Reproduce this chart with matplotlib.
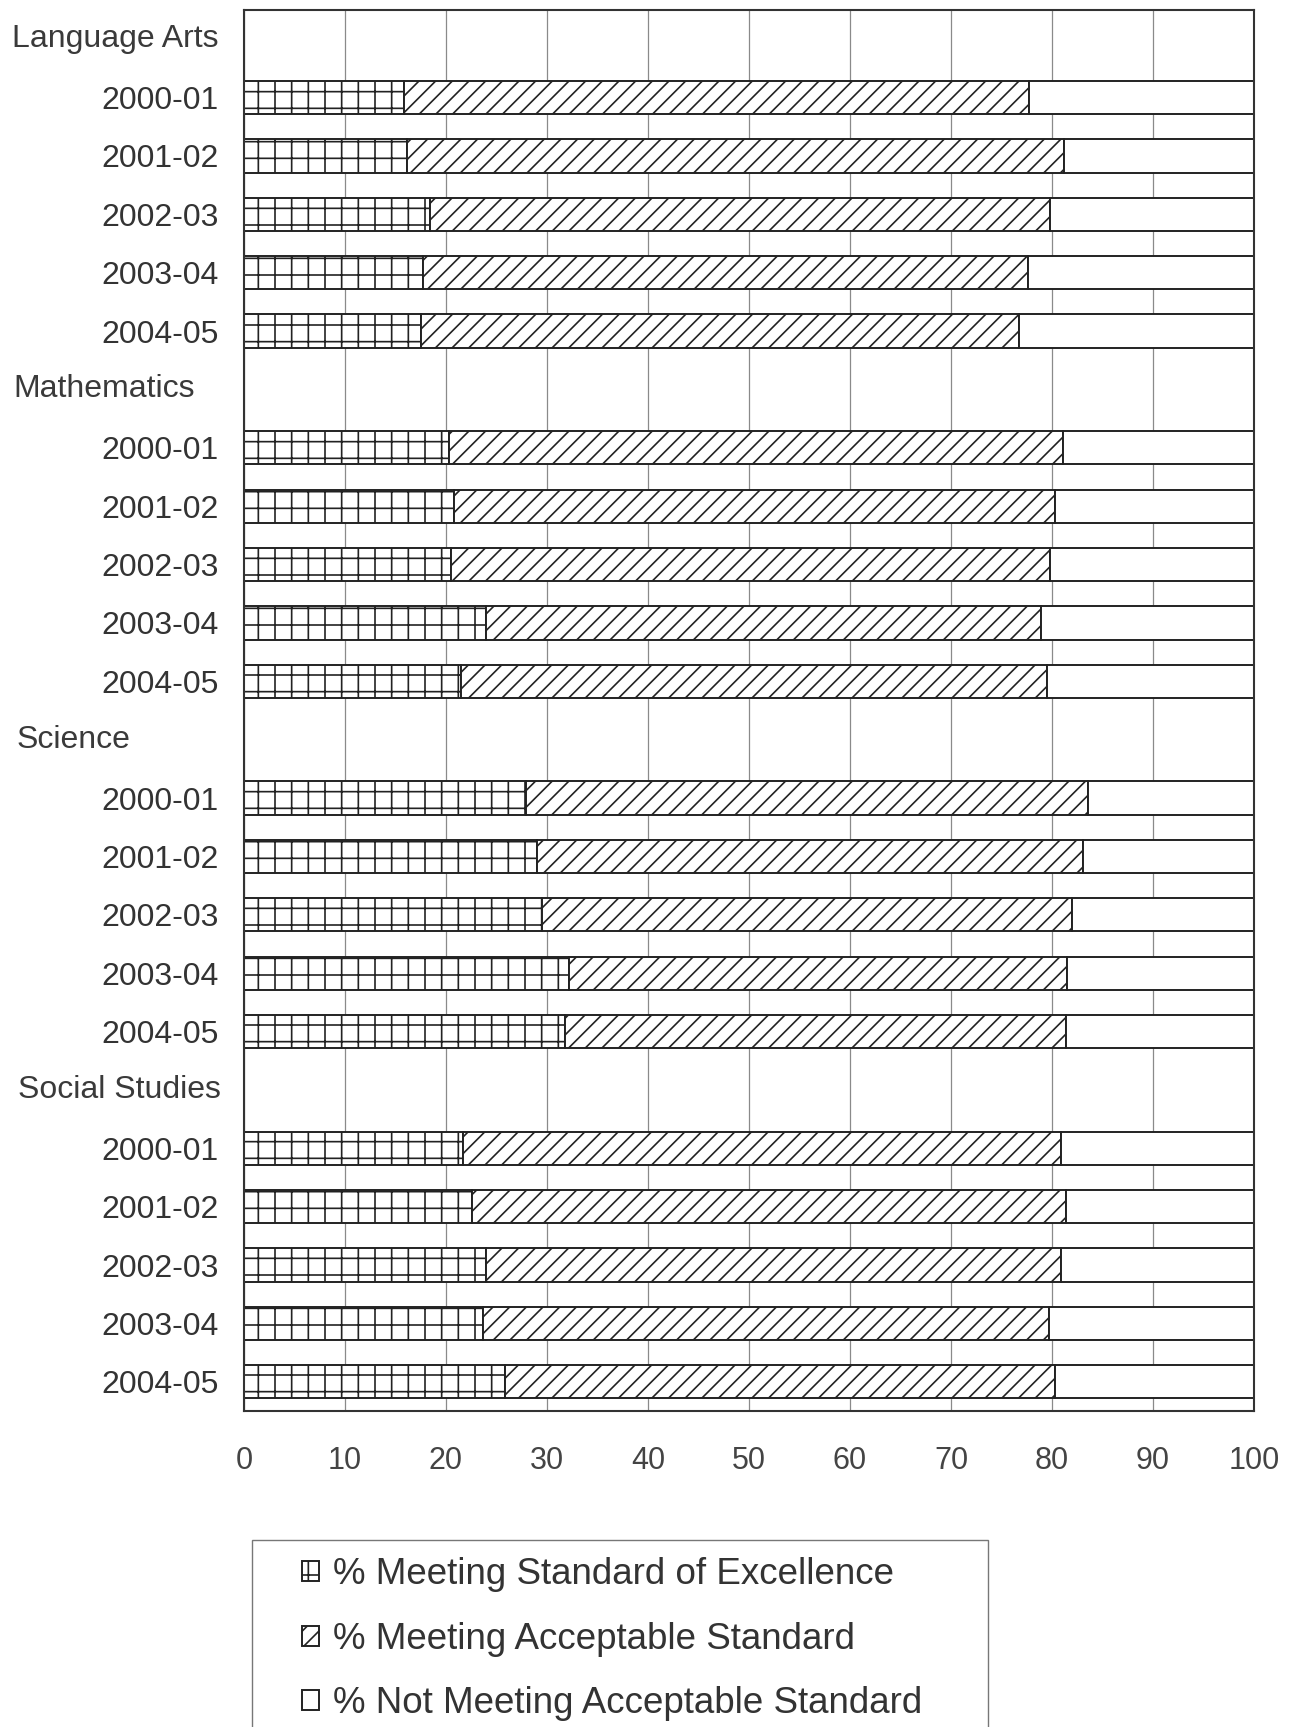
import numpy as np
import matplotlib.pyplot as plt
import matplotlib.transforms as mtransforms
from matplotlib.patches import Rectangle

plt.rcParams['font.family'] = ['Liberation Sans', 'DejaVu Sans']
plt.rcParams['hatch.linewidth'] = 1.2

# Datos: materias, años y porcentajes por nivel
materias = ['Language Arts', 'Mathematics', 'Science', 'Social Studies']
anios = ['2000-01', '2001-02', '2002-03', '2003-04', '2004-05']

excelencia = [15.8, 16.1, 18.4, 17.7, 17.5,
              20.3, 20.8, 20.5, 24.0, 21.5,
              27.9, 29.0, 29.5, 32.2, 31.8,
              21.7, 22.6, 24.0, 23.7, 25.8]
aceptable = [61.9, 65.1, 61.4, 59.9, 59.2,
             60.8, 59.5, 59.3, 54.9, 58.0,
             55.7, 54.1, 52.5, 49.3, 49.6,
             59.2, 58.8, 56.9, 56.0, 54.5]

etiquetas = ['% Meeting Standard of Excellence',
             '% Meeting Acceptable Standard',
             '% Not Meeting Acceptable Standard']

excelencia = np.array(excelencia)
aceptable = np.array(aceptable)
no_aceptable = 100 - excelencia - aceptable

# Cada materia ocupa una fila de título y cinco filas de barras
filas_titulo = [6 * i for i in range(len(materias))]
filas_barras = [6 * i + 1 + j for i in range(len(materias)) for j in range(len(anios))]

fig = plt.figure(figsize=(12.91, 17.27), dpi=100)
ax = fig.add_axes([244 / 1291, 1 - 1411 / 1727, 1010 / 1291, 1401 / 1727])

estilo = dict(height=0.57, color='white', edgecolor='#222222', linewidth=1.4)
b1 = ax.barh(filas_barras, excelencia, hatch='+', **estilo)
b2 = ax.barh(filas_barras, aceptable, left=excelencia, hatch='//', **estilo)
b3 = ax.barh(filas_barras, no_aceptable, left=excelencia + aceptable, **estilo)

ax.set_xlim(0, 100)
ax.set_ylim(23.5, -0.5)
ax.set_xticks(range(0, 101, 10))
ax.xaxis.grid(True, color='#8a8a8a', linewidth=0.9)
ax.set_axisbelow(True)

ax.set_yticks(filas_barras)
ax.set_yticklabels(anios * len(materias), fontsize=23, color='#333333')
ax.tick_params(axis='y', length=0, pad=18)
ax.tick_params(axis='x', length=0, pad=25, labelsize=22, labelcolor='#444444')
for s in ax.spines.values():
    s.set_linewidth(1.5)
    s.set_color('#333333')

# Títulos de materia alineados a la izquierda del gráfico
trans = mtransforms.blended_transform_factory(fig.transFigure, ax.transData)
for nombre, fila, x in zip(materias, filas_titulo, [12, 13, 17, 18]):
    ax.text(x / 1291, fila, nombre, transform=trans, ha='left', va='center',
            fontsize=23, color='#3a3a3a')

# Leyenda con marco que sigue hasta el borde inferior
fig.legend([b1, b2, b3], etiquetas, loc='upper left',
           bbox_to_anchor=(284 / 1291, 1 - 1539 / 1727), frameon=False,
           fontsize=26.5, handlelength=0.46, handleheight=0.46,
           handletextpad=0.36, labelspacing=0.8, borderpad=0, labelcolor='#333333')
fig.add_artist(Rectangle((252 / 1291, -0.01), (988 - 252) / 1291, 1 - 1540 / 1727 + 0.01,
                         transform=fig.transFigure, fill=False, edgecolor='#777777', linewidth=1))

fig.savefig('out.png', dpi=100)
